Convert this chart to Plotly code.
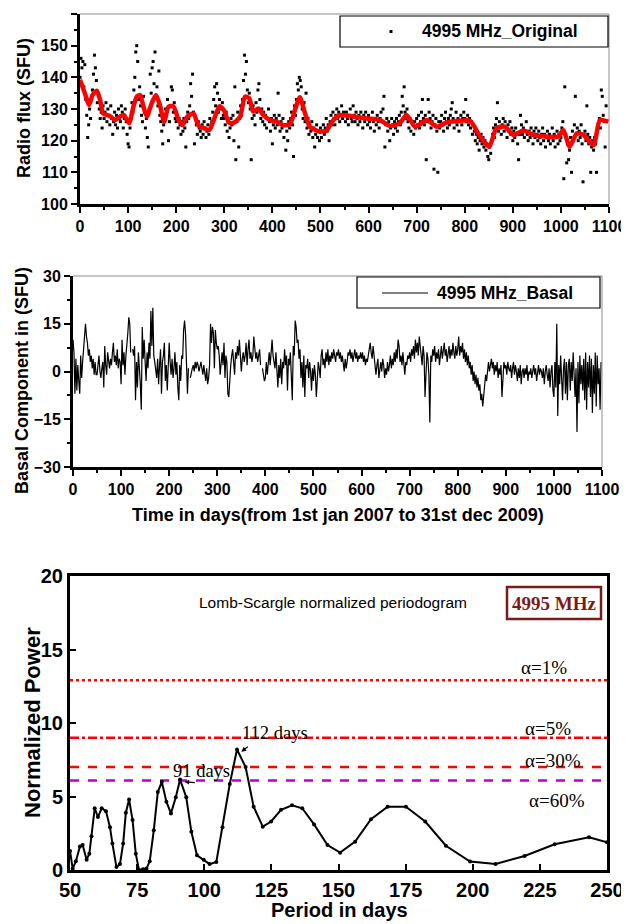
import plotly.graph_objects as go

# page body has an 8px margin: figure is placed at (8, 8) in the window
OFF = 8
W, H = 629 - OFF, 924 - OFF

# ---------------- DATA ----------------
# Panel 1: daily radio flux (sampled every 2 days), SFU
FLUX_STEP = 2
FLUX_ORIGINAL = [
    140, 146, 143, 145, 137, 144, 133, 128, 121, 125, 130, 127, 133, 136, 141, 147, 143, 139, 132, 134, 130, 127, 129, 124, 131,
    127, 129, 132, 126, 130, 128, 125, 131, 127, 122, 126, 129, 125, 128, 124, 130, 127, 126, 131, 129, 124, 127, 130, 126, 122,
    119, 118, 124, 127, 132, 129, 136, 140, 148, 150, 145, 133, 137, 131, 128, 126, 134, 129, 124, 127, 121, 118, 130, 141, 135,
    143, 145, 138, 148, 134, 137, 131, 142, 128, 126, 123, 119, 125, 127, 130, 128, 133, 120, 126, 131, 137, 136, 129, 132, 127,
    126, 128, 124, 127, 125, 122, 126, 123, 127, 124, 118, 126, 129, 127, 131, 138, 134, 141, 129, 119, 127, 125, 122, 126, 124,
    123, 121, 125, 122, 126, 124, 121, 123, 125, 122, 127, 124, 126, 129, 133, 137, 131, 138, 135, 129, 133, 130, 127, 132, 128,
    127, 125, 129, 123, 126, 121, 124, 127, 125, 128, 120, 137, 114, 126, 129, 118, 127, 131, 128, 133, 139, 147, 141, 145, 136,
    132, 135, 130, 114, 127, 131, 128, 125, 132, 129, 136, 138, 133, 127, 130, 126, 129, 125, 128, 124, 127, 130, 126, 123, 127,
    119, 125, 128, 124, 127, 125, 135, 128, 123, 126, 124, 127, 121, 125, 117, 123, 120, 126, 124, 127, 129, 125, 115, 131, 128,
    133, 138, 136, 140, 139, 137, 130, 127, 132, 126, 135, 124, 127, 122, 125, 123, 126, 121, 124, 118, 122, 125, 121, 123, 120,
    124, 121, 123, 125, 122, 124, 127, 123, 125, 120, 126, 128, 125, 129, 127, 125, 128, 130, 127, 129, 126, 128, 131, 127, 129,
    128, 126, 129, 127, 125, 128, 130, 127, 126, 131, 128, 126, 129, 127, 125, 128, 126, 129, 127, 124, 128, 126, 129, 127, 125,
    128, 126, 124, 127, 129, 126, 123, 127, 125, 128, 126, 124, 127, 129, 126, 130, 134, 118, 125, 127, 123, 126, 120, 124, 127,
    125, 122, 126, 124, 127, 123, 126, 128, 125, 129, 134, 131, 137, 129, 127, 130, 126, 124, 127, 123, 126, 125, 122, 126, 124,
    127, 125, 128, 124, 126, 129, 133, 127, 125, 128, 114, 126, 133, 129, 127, 124, 126, 128, 111, 125, 127, 123, 110, 126, 124,
    126, 128, 125, 123, 127, 129, 126, 124, 127, 125, 128, 130, 132, 127, 124, 126, 129, 125, 127, 123, 126, 128, 125, 127, 129,
    127, 133, 126, 128, 125, 127, 124, 126, 122, 125, 123, 120, 122, 119, 121, 117, 120, 122, 119, 121, 118, 120, 117, 119, 115,
    114, 118, 116, 120, 122, 124, 121, 125, 127, 132, 123, 126, 124, 122, 125, 127, 123, 126, 124, 121, 125, 123, 126, 122, 124,
    120, 123, 121, 124, 122, 119, 114, 122, 128, 125, 122, 124, 121, 123, 126, 122, 120, 123, 121, 124, 122, 119, 123, 121, 124,
    122, 120, 123, 121, 119, 122, 124, 120, 122, 118, 121, 123, 120, 122, 119, 121, 124, 120, 122, 118, 121, 123, 119, 122, 120,
    121, 124, 126, 108, 137, 122, 113, 119, 114, 117, 121, 110, 123, 120, 125, 134, 122, 124, 120, 123, 121, 125, 119, 107, 122,
    123, 120, 131, 122, 119, 121, 110, 118, 120, 117, 121, 119, 110, 123, 125, 127, 124, 136, 134, 128, 126, 118, 131,
]

# Panel 1: smoothed curve (red)
SMOOTH_DAY = [0, 10, 19, 26, 35, 42, 48, 62, 73, 83, 91, 102, 111, 118, 125, 132, 139, 149, 158, 166,
              175, 184, 194, 204, 213, 223, 236, 246, 258, 269, 277, 290, 299, 310, 320, 333, 343, 352, 360, 371,
              381, 395, 409, 423, 437, 447, 457, 468, 478, 499, 513, 527, 541, 568, 596, 624, 645, 665, 679, 697,
              721, 742, 762, 783, 811, 832, 851, 866, 884, 901, 922, 943, 970, 995, 1005, 1018, 1033, 1047, 1068, 1081, 1099]
SMOOTH_FLUX = [139.2, 135, 131.3, 134.4, 135.8, 132.8, 128.6, 127.8, 126.5, 127.6, 128.1, 125.5, 130.7, 133.9, 134.4, 130.7, 127.6, 131.8, 134.4, 131.3,
               126, 130.7, 130.9, 127, 124.9, 127.6, 128.6, 124.9, 123.9, 123.4, 126, 130.9, 129.7, 125.7, 125.7, 127.6, 133.9, 133.4, 129.2, 130.2,
               128.1, 126.5, 126, 124.9, 125.3, 129.7, 133.7, 128.6, 124.4, 122.8, 123.3, 126.5, 128.1, 127.6, 127, 126.5, 124.6, 125.5, 128.1, 124.4,
               126.5, 124.4, 125.7, 126.2, 126.3, 121.3, 118.1, 124, 124.4, 121.8, 123.2, 121.8, 121.3, 121.3, 123.4, 118.1, 122.3, 121.8, 118.6, 126.5, 126]

# Panel 2: basal component (sampled every 2 days), SFU
BASAL_STEP = 2
BASAL = [
    10, 6, -7, 4, -6, 2, -3, -7, 5, -2, 3, 8, 12, 15, 11, 9, 5, 7, 3, 5, 1, 4, -1, 3, -1,
    -1, 2, 5, 0, -2, 1, 3, -5, 8, 2, -1, 6, 3, 1, 4, 2, 6, 9, 3, 5, 2, 7, 1, 4, 3,
    -4, 10, 2, 6, -1, 5, 8, 12, 17, 15, 6, None, 7, 5, 8, -9, 3, -5, 6, 2, -4, -12, 14, 4, 10,
    3, -3, 6, 1, 9, 4, 19, 8, 20, 5, 3, 0, -2, 4, -4, 2, 7, -7, 3, 5, 9, -3, 2, -6, 6,
    9, 3, -1, 4, -2, 1, 6, -1, 3, -5, -9, 2, -3, 5, 4, 13, 16, 12, 4, -7, 1, None, -2, 0, 1,
    2, 0, 3, 1, 3, 2, 0, 2, 3, 1, -1, 2, 0, -3, 1, -4, -2, 2, 15, 9, 14, 12, 1, 13, 9,
    7, 8, 5, -1, 4, 6, 2, 9, -2, 5, 3, -7, -8, 0, 2, 5, 7, 3, -1, 6, 4, 8, 5, 10, 3,
    0, 4, 6, 3, 5, 9, 2, 7, 10, 4, 6, 3, 5, 11, 8, 4, 6, 3, 5, 7, 2, None, 1, -1, -3,
    -2, 3, -1, 4, 6, 2, 8, 10, 5, 3, 1, 6, -3, -5, 2, -2, 4, -4, 3, 1, 7, 2, 5, -6, 4,
    2, 6, -3, -9, 8, 5, 16, 14, 9, 10, 4, 7, -2, 3, -5, 5, -8, 2, 1, 4, -2, 3, 0, -6, 1,
    -3, 2, -1, -8, 0, 3, 1, -2, 5, 7, 2, 4, 1, 6, 3, 7, 2, 5, 3, 6, 4, 7, 5, 3, 6,
    5, 7, 4, 6, 3, 5, 2, 0, 4, 1, 3, 6, 5, 7, 4, 6, 3, 5, 7, 4, 6, 3, 5, 4, 6,
    4, 6, 3, 5, 2, 4, 3, 5, 7, 9, 6, 4, 8, 5, 3, -1, 2, 4, -2, 1, 3, 0, 4, 2, -2,
    1, -1, 3, 0, 2, 5, 1, 4, 2, 6, 3, 7, 4, 10, 8, 3, 5, 2, 6, 1, -1, 3, 2, 5, 4,
    6, 3, 7, 5, 8, 4, 10, 6, 9, 5, 11, 7, 4, 2, 8, 5, -8, 3, 6, 4, -1, -16, 5, 3, 7,
    5, 8, 3, 6, 4, 7, 2, 5, 8, 4, 6, 9, 5, 7, 3, 6, 8, 4, 7, 5, 9, 6, 4, 8, 5,
    7, 11, 5, 8, 6, 9, 4, 7, 3, 6, 2, 5, 1, 3, -1, 2, -3, 0, -4, -1, -5, -2, -6, -4, -9,
    -7, -11, -8, -4, -1, -3, 1, 3, 0, 2, 4, 1, 3, -1, 2, 0, 3, -2, 1, -1, 2, -8, 0, 3, 1,
    2, -1, 3, 1, 0, 2, -2, 1, 3, -1, 2, 0, -3, 1, -2, 2, -4, 0, 1, -2, 1, -1, 2, -3, 0,
    -1, 1, -2, 0, 2, -1, 1, -3, 0, 2, -1, 1, 0, -2, 1, -4, 0, 2, -1, -3, 1, -5, 0, 2, -6,
    -8, 3, -5, 15, -14, 2, -4, 5, -2, -9, 1, 4, -7, 3, -9, 2, 4, -6, 3, -3, 6, -2, -8, 1, -19,
    3, -10, 5, -4, 2, -6, 4, -9, 6, -12, 3, -5, 5, -8, 4, -13, 2, -7, 6, -11, 5, -4, 1, -12, 3,
]

# Panel 3: Lomb-Scargle periodogram
PERIOD = [50, 51, 52.2, 53.7, 54.7, 56.2, 57.2, 58, 59.2, 60.4, 61.8, 63.4, 64.9, 65.8, 67.3, 68.6, 69.8, 70.8, 72, 73.3,
          74.5, 75.7, 77.2, 78.5, 79.7, 81.2, 82.7, 84.2, 85.9, 87.6, 89.4, 91, 93.3, 95.2, 97.3, 99.8, 102, 104.5, 106.8, 109.5,
          112.2, 115.4, 118.4, 121.8, 124.9, 128.6, 132.7, 136.5, 140.9, 145.9, 150.6, 156.2, 162.1, 168.3, 175.1, 182.3, 190, 199, 208.5, 219.3,
          230.5, 243.3, 250]
POWER = [1.3, 0.1, 0.6, 1.6, 1.7, 0.7, 1.1, 2.3, 4.2, 3.6, 4.2, 4.0, 2.9, 1.8, 0.2, 0.4, 1.8, 3.9, 4.8, 3.4,
         1.1, 0.0, 0.05, 0.1, 0.6, 2.7, 5.3, 6.0, 4.65, 3.85, 4.95, 6.15, 4.95, 2.6, 1.0, 0.7, 0.4, 0.55, 2.9, 5.85,
         8.2, 7.0, 4.3, 2.95, 3.3, 4.1, 4.4, 4.2, 3.1, 1.7, 1.18, 1.93, 3.45, 4.3, 4.3, 3.3, 1.65, 0.57, 0.41, 0.95,
         1.75, 2.22, 1.88]

SIG_LABELS = ["α=1%", "α=5%", "α=30%", "α=60%"]
SIG_LEVELS = [12.9, 9.0, 7.0, 6.08]
SIG_COLORS = ["#ff0000", "#ff0000", "#ff0000", "#c000c8"]
SIG_DASH = ["dot", "dashdot", "dash", "dash"]

PEAK_LABELS = ["112 days", "91 days"]
PEAK_PERIODS = [112.2, 91]
PEAK_POWERS = [8.2, 6.15]

X1_TICKS = [0, 100, 200, 300, 400, 500, 600, 700, 800, 900, 1000, 1100]

# ---------------- helpers (window pixel -> paper) ----------------
def px(x):
    return (x - OFF) / W


def py(y):
    return 1 - (y - OFF) / H


SANS = "Liberation Sans, Arial, sans-serif"
NARROW = "Liberation Sans Narrow, Arial Narrow, Liberation Sans, Arial, sans-serif"
SERIF = "Liberation Serif, Times New Roman, serif"

flux_days = [i * FLUX_STEP for i in range(len(FLUX_ORIGINAL))]
basal_days = [i * BASAL_STEP for i in range(len(BASAL))]

fig = go.Figure()

fig.add_trace(go.Scatter(x=flux_days, y=FLUX_ORIGINAL, mode="markers", name="4995 MHz_Original",
                         marker=dict(symbol="square", size=3, color="black", line=dict(width=0)),
                         xaxis="x", yaxis="y", showlegend=False, cliponaxis=False))
fig.add_trace(go.Scatter(x=SMOOTH_DAY, y=SMOOTH_FLUX, mode="lines", name="smooth",
                         line=dict(color="#ff0000", width=4.5, shape="spline", smoothing=0.6),
                         xaxis="x", yaxis="y", showlegend=False))

fig.add_trace(go.Scatter(x=basal_days, y=BASAL, mode="lines", name="4995 MHz_Basal",
                         line=dict(color="black", width=1.2), connectgaps=False,
                         xaxis="x2", yaxis="y2", showlegend=False))

for lab, lev, col, dash in zip(SIG_LABELS, SIG_LEVELS, SIG_COLORS, SIG_DASH):
    fig.add_trace(go.Scatter(x=[50, 250], y=[lev, lev], mode="lines", name=lab,
                             line=dict(color=col, width=2.5, dash=dash),
                             xaxis="x3", yaxis="y3", showlegend=False))

fig.add_trace(go.Scatter(x=PERIOD, y=POWER, mode="lines+markers", name="periodogram",
                         line=dict(color="black", width=2),
                         marker=dict(size=4, color="black"),
                         xaxis="x3", yaxis="y3", showlegend=False))

tick16 = dict(family=SANS, size=16, color="black", weight="bold")

common_ts = dict(showgrid=False, zeroline=False, showline=True, linecolor="black", linewidth=3,
                 ticks="outside", ticklen=6, tickwidth=2, tickcolor="black", tickfont=tick16,
                 automargin=False)

layout = dict(
    width=W, height=H, margin=dict(l=0, r=0, t=0, b=0, pad=0, autoexpand=False),
    paper_bgcolor="white", plot_bgcolor="white", showlegend=False,
    xaxis=dict(domain=[px(80), px(609)], range=[0, 1100], tickvals=X1_TICKS, anchor="y",
               minor=dict(dtick=50, ticks="outside", ticklen=3, tickwidth=2, tickcolor="black"), **common_ts),
    yaxis=dict(domain=[py(204), py(14)], range=[100, 160], dtick=10, anchor="x",
               minor=dict(dtick=5, ticks="outside", ticklen=3, tickwidth=2, tickcolor="black"), **common_ts),
    xaxis2=dict(domain=[px(73), px(602)], range=[0, 1100], tickvals=X1_TICKS, anchor="y2",
                minor=dict(dtick=50, ticks="outside", ticklen=3, tickwidth=2, tickcolor="black"), **common_ts),
    yaxis2=dict(domain=[py(467), py(276)], range=[-30, 30], tickvals=[-30, -15, 0, 15, 30], anchor="x2",
                minor=dict(dtick=7.5, ticks="outside", ticklen=3, tickwidth=2, tickcolor="black"), **common_ts),
    xaxis3=dict(domain=[px(70), px(607)], range=[50, 250], dtick=25, anchor="y3", automargin=False,
                showgrid=False, zeroline=False, showline=True, mirror=True, linecolor="black", linewidth=3,
                ticks="inside", ticklen=6, tickwidth=1.5, tickcolor="black",
                tickfont=dict(family=NARROW, size=20, color="black", weight="bold")),
    yaxis3=dict(domain=[py(870), py(576)], range=[0, 20], dtick=5, anchor="x3", automargin=False,
                showgrid=False, zeroline=False, showline=True, mirror=True, linecolor="black", linewidth=3,
                ticks="inside", ticklen=6, tickwidth=1.5, tickcolor="black",
                tickfont=dict(family=NARROW, size=20, color="black", weight="bold")),
)
fig.update_layout(**layout)

shapes = []
# grey top/right frame for panels 1 & 2
for (x0, x1, y0, y1) in [(80, 609, 14, 204), (73, 602, 276, 467)]:
    shapes.append(dict(type="line", xref="paper", yref="paper", x0=px(x0), x1=px(x1), y0=py(y0), y1=py(y0),
                       line=dict(color="#8c8c8c", width=1)))
    shapes.append(dict(type="line", xref="paper", yref="paper", x0=px(x1), x1=px(x1), y0=py(y0), y1=py(y1),
                       line=dict(color="#8c8c8c", width=1)))
# legend boxes
shapes.append(dict(type="rect", xref="paper", yref="paper", x0=px(340), x1=px(608), y0=py(47), y1=py(16),
                   line=dict(color="black", width=1.2), fillcolor="white"))
shapes.append(dict(type="rect", xref="paper", yref="paper", x0=px(389.5), x1=px(392.5), y0=py(33), y1=py(30),
                   line=dict(width=0), fillcolor="black"))
shapes.append(dict(type="rect", xref="paper", yref="paper", x0=px(357), x1=px(600), y0=py(308), y1=py(277),
                   line=dict(color="black", width=1.2), fillcolor="white"))
shapes.append(dict(type="line", xref="paper", yref="paper", x0=px(382), x1=px(428), y0=py(293), y1=py(293),
                   line=dict(color="black", width=1.2)))
# 4995 MHz box in periodogram
shapes.append(dict(type="rect", xref="paper", yref="paper", x0=px(507), x1=px(601), y0=py(619), y1=py(587),
                   line=dict(color="#7b1a1a", width=2.5), fillcolor="white"))
fig.update_layout(shapes=shapes)

ann = []


def text(x, y, t, size, family=SANS, color="black", angle=0, xanchor="center", bold=False):
    ann.append(dict(xref="paper", yref="paper", x=px(x), y=py(y), text=(f"<b>{t}</b>" if bold else t),
                    showarrow=False, textangle=angle, xanchor=xanchor, yanchor="middle",
                    font=dict(family=family, size=size, color=color)))


text(24, 108, "Radio flux (SFU)", 18, angle=-90, bold=True)
text(22, 381, "Basal Component in (SFU)", 18, angle=-90, bold=True)
text(338, 515, "Time in days(from 1st jan 2007 to 31st dec 2009)", 18, bold=True)
text(420, 31, "4995 MHz_Original", 17.5, xanchor="left", bold=True)
text(435, 293, "4995 MHz_Basal", 17.5, xanchor="left", bold=True)

text(32, 723, "Normalized Power", 22, angle=-90, bold=True)
text(339, 910, "Period in days", 20, bold=True)
text(333, 602, "Lomb-Scargle normalized periodogram", 15.5)
text(554, 603, "4995 MHz", 19, family=SERIF, color="#7b1a1a", bold=True)

for lab, (xc, yc) in zip(SIG_LABELS, [(544, 667), (548, 728), (553, 760), (557, 800)]):
    text(xc, yc, lab, 19, family=SERIF)

for lab, (xc, yc) in zip(PEAK_LABELS, [(275, 733), (201, 771)]):
    text(xc, yc, lab, 18.5, family=SERIF)

# small arrows pointing at the peaks
for per, pw, axo, ayo in zip(PEAK_PERIODS, PEAK_POWERS, [8, 12], [-6, 1]):
    ann.append(dict(xref="x3", yref="y3", x=per + 1.6, y=pw - 0.15, ax=axo, ay=ayo, text="",
                    showarrow=True, arrowhead=2, arrowsize=0.8, arrowwidth=1.2, arrowcolor="black"))

fig.update_layout(annotations=ann)

fig.write_html("out.html")
